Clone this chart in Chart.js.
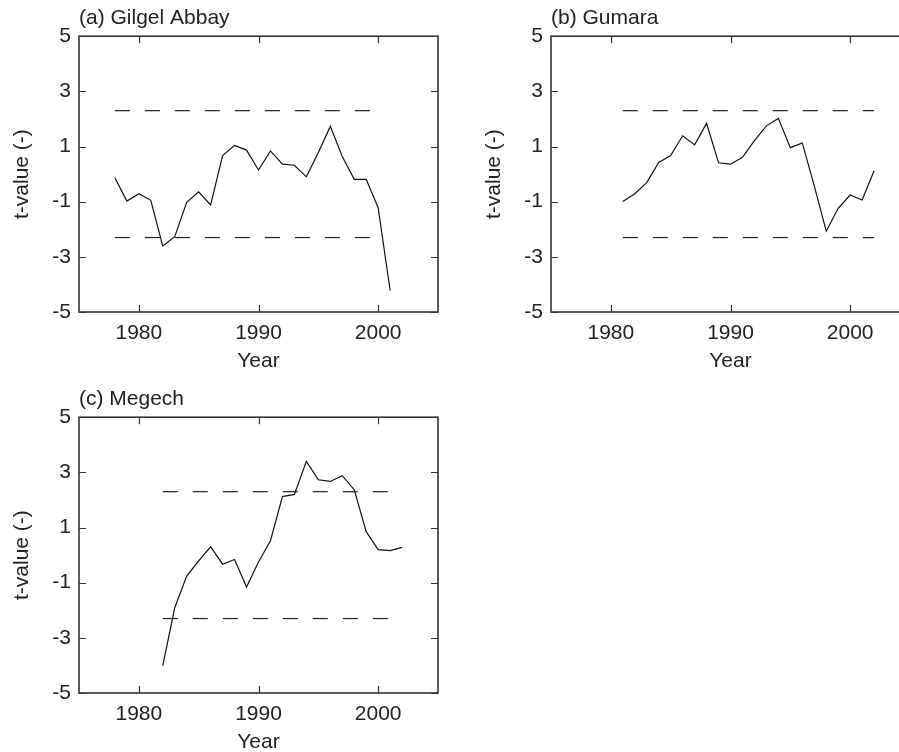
<!DOCTYPE html>
<html><head><meta charset="utf-8">
<script src="https://cdn.jsdelivr.net/npm/chart.js@4"></script>
<style>
html,body{margin:0;padding:0;background:#fff;overflow:hidden;width:899px;height:752px;position:relative;}
canvas{position:absolute;}
</style></head><body>
<canvas id="ca" width="450" height="376" style="left:0px;top:0px"></canvas>
<canvas id="cb" width="450" height="376" style="left:472px;top:0px"></canvas>
<canvas id="cc" width="450" height="376" style="left:0px;top:381px"></canvas>
<script>
// ---- data ----
const xTickValues = [1980, 1990, 2000];
const yTickValues = [-5, -3, -1, 1, 3, 5];
const criticalT = 2.3;

const yearsA = [1978,1979,1980,1981,1982,1983,1984,1985,1986,1987,1988,1989,1990,1991,1992,1993,1994,1995,1996,1997,1998,1999,2000,2001];
const tA = [-0.13,-0.98,-0.71,-0.95,-2.61,-2.27,-1.02,-0.64,-1.12,0.67,1.04,0.87,0.15,0.84,0.36,0.32,-0.10,0.78,1.73,0.64,-0.19,-0.19,-1.22,-4.22];
const critSpanA = [1978, 2000];

const yearsB = [1981,1982,1983,1984,1985,1986,1987,1988,1989,1990,1991,1992,1993,1994,1995,1996,1997,1998,1999,2000,2001,2002];
const tB = [-0.99,-0.71,-0.31,0.42,0.67,1.39,1.06,1.84,0.41,0.36,0.61,1.21,1.75,2.02,0.96,1.13,-0.43,-2.07,-1.24,-0.76,-0.94,0.12];
const critSpanB = [1981, 2002];

const yearsC = [1982,1983,1984,1985,1986,1987,1988,1989,1990,1991,1992,1993,1994,1995,1996,1997,1998,1999,2000,2001,2002];
const tC = [-4.01,-1.91,-0.76,-0.21,0.30,-0.33,-0.16,-1.16,-0.25,0.52,2.12,2.20,3.40,2.73,2.67,2.88,2.37,0.85,0.20,0.16,0.28];
const critSpanC = [1982, 2001];

// ---- drawing ----
const FONT = {family: "'Liberation Sans', Arial, sans-serif", size: 21, weight: 'normal', lineHeight: 1.2};
const TEXT = '#222';

const framePlugin = {
  id: 'frame',
  afterDatasetsDraw(chart) {
    const {ctx, chartArea: a, scales: {x, y}} = chart;
    ctx.save();
    ctx.strokeStyle = '#333';
    ctx.lineWidth = 1.6;
    ctx.strokeRect(a.left, a.top, a.right - a.left, a.bottom - a.top);
    ctx.lineWidth = 1.2;
    ctx.beginPath();
    x.ticks.forEach(t => {
      const px = Math.round(x.getPixelForValue(t.value)) + 0.5;
      ctx.moveTo(px, a.bottom); ctx.lineTo(px, a.bottom - 7);
      ctx.moveTo(px, a.top); ctx.lineTo(px, a.top + 7);
    });
    y.ticks.forEach(t => {
      const py = Math.round(y.getPixelForValue(t.value)) + 0.5;
      ctx.moveTo(a.left, py); ctx.lineTo(a.left + 7, py);
      ctx.moveTo(a.right, py); ctx.lineTo(a.right - 7, py);
    });
    ctx.stroke();
    ctx.restore();
  }
};

function makeChart(id, title, years, vals, span) {
  const series = years.map((yr, i) => ({x: yr, y: vals[i]}));
  const dashed = (v) => ({
    data: [{x: span[0], y: v}, {x: span[1], y: v}],
    borderColor: '#222', borderWidth: 1.2, borderDash: [15, 15],
    pointRadius: 0, fill: false, tension: 0
  });
  new Chart(document.getElementById(id), {
    type: 'line',
    data: {datasets: [
      {data: series, borderColor: '#111', borderWidth: 1.2, pointRadius: 0, fill: false, tension: 0},
      dashed(criticalT),
      dashed(-criticalT)
    ]},
    options: {
      responsive: false,
      animation: false,
      devicePixelRatio: 1,
      layout: {padding: {left: 0, right: 12, top: 0, bottom: 0}},
      plugins: {
        legend: {display: false},
        tooltip: {enabled: false},
        title: {display: true, text: title, align: 'start', fullSize: false, color: TEXT,
                font: FONT, padding: {top: 6, bottom: 5}}
      },
      scales: {
        x: {
          type: 'linear', min: 1975, max: 2005,
          afterBuildTicks: s => { s.ticks = xTickValues.map(v => ({value: v})); },
          afterFit: s => { s.height = 64; },
          grid: {display: false, drawTicks: false, tickLength: 0},
          border: {display: false},
          ticks: {color: TEXT, font: FONT, padding: 9, maxRotation: 0, autoSkip: false,
                  callback: v => String(v)},
          title: {display: true, text: 'Year', color: TEXT, font: FONT, padding: {top: 0, bottom: 2}}
        },
        y: {
          type: 'linear', min: -5, max: 5,
          afterBuildTicks: s => { s.ticks = yTickValues.map(v => ({value: v})); },
          afterFit: s => { s.width = 79; },
          grid: {display: false, drawTicks: false, tickLength: 0},
          border: {display: false},
          ticks: {color: TEXT, font: FONT, padding: 8, autoSkip: false, callback: v => String(v)},
          title: {display: true, text: 't-value (-)', color: TEXT, font: FONT, padding: {top: 10, bottom: 0}}
        }
      }
    },
    plugins: [framePlugin]
  });
}

makeChart('ca', '(a) Gilgel Abbay', yearsA, tA, critSpanA);
makeChart('cb', '(b) Gumara', yearsB, tB, critSpanB);
makeChart('cc', '(c) Megech', yearsC, tC, critSpanC);
</script>
</body></html>
